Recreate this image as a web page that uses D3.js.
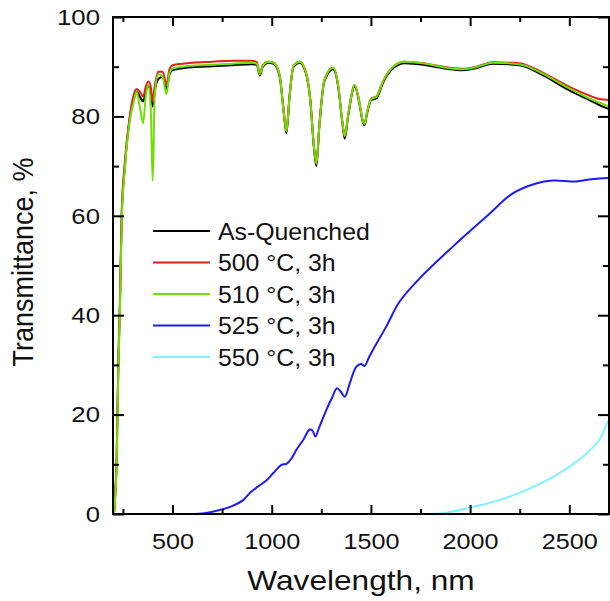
<!DOCTYPE html>
<html lang="en">
<head>
<meta charset="UTF-8">
<title>Transmittance vs wavelength</title>
<script src="https://d3js.org/d3.v7.min.js"></script>
<style>
  body { margin: 0; background: #fff; }
  svg text { font-family: "Liberation Sans", Arial, sans-serif; fill: #111; }
  .series { fill: none; stroke-width: 2px; stroke-linejoin: round; }
  .tick line { stroke: #000; stroke-width: 2px; }
</style>
</head>
<body>
<svg id="chart" width="610" height="601"></svg>
<script>
// wavelength grid shared by the three near-identical curves (nm)
var wl = [205, 210, 218, 227, 235, 244, 260, 286, 302, 319, 335, 352, 365, 378, 390, 400, 410, 428, 450, 470,
          485, 500, 550, 600, 700, 800, 900, 925, 940, 955, 982, 1010, 1040, 1060, 1074, 1090, 1110, 1141, 1170, 1195,
          1212, 1225, 1240, 1265, 1309, 1335, 1355, 1368, 1385, 1418, 1440, 1458, 1468, 1480, 1502, 1527, 1560, 1611, 1670, 1779,
          1880, 1963, 2030, 2114, 2248, 2366, 2483, 2601, 2650, 2700];

var asQuenched = [0, 3, 10, 30, 42, 60, 70, 80, 83, 85, 84, 83, 85, 86, 85, 82, 85, 87.5, 88, 85.5,
          88.5, 89.3, 89.7, 89.9, 90.1, 90.3, 90.5, 90.4, 88.2, 90, 90.8, 90.6, 88, 81, 76.6, 84, 90, 90.8, 89, 83,
          74, 70, 78, 87, 89.5, 86, 79, 75.5, 80, 86, 83, 79, 78.2, 80.5, 83.3, 83.6, 86.7, 89.7, 90.7, 90.3,
          89.6, 89.3, 89.7, 90.6, 90.3, 88.3, 85.6, 83.3, 82.3, 81.5];

var t500 = [0, 3.5, 11, 31, 43, 61, 71, 80.5, 84, 85.5, 85, 84, 86, 87, 86, 83, 86, 89, 89, 86.5,
          89.5, 90.3, 90.6, 90.8, 91, 91.2, 91.2, 90.9, 88.6, 90.3, 91, 90.8, 88.3, 81.3, 77, 84.3, 90.2, 91, 89.2, 83.2,
          74.3, 70.5, 78.3, 87.3, 89.8, 86.3, 79.3, 76, 80.3, 86.3, 83.3, 79.3, 78.6, 80.8, 83.6, 84, 87, 90, 91, 90.6,
          89.9, 89.6, 90, 90.9, 90.7, 88.8, 86.3, 84.2, 83.5, 83.3];

var t510 = [0, 2.5, 9.5, 29, 41, 59, 69.5, 79.5, 82.5, 85, 82, 78.6, 84, 86.3, 82, 67, 84, 88.5, 88, 84.5,
          88.8, 89.6, 90, 90.2, 90.4, 90.6, 90.8, 90.6, 88.5, 90.2, 91, 90.8, 88.2, 81, 77, 84, 90.2, 91, 89.2, 83,
          74.3, 70.5, 78, 87.2, 89.8, 86.2, 79.2, 76, 80.2, 86.3, 83.2, 79.2, 78.5, 80.7, 83.5, 83.9, 87, 90, 91, 90.6,
          89.8, 89.5, 89.9, 90.8, 90.5, 88.6, 86, 83.6, 82.8, 82];

var wl525 = [500, 650, 738, 800, 856, 889, 930, 974, 1010, 1049, 1074, 1100, 1124, 1160, 1191, 1205, 1220, 1240, 1275, 1305,
          1329, 1350, 1368, 1395, 1426, 1450, 1468, 1490, 1510, 1577, 1644, 1745, 1913, 2081, 2215, 2332, 2416, 2534, 2600, 2650, 2700];
var t525 = [0, 0.1, 0.8, 1.6, 2.8, 4.2, 5.5, 6.8, 8.3, 9.9, 10.1, 11.2, 12.9, 15, 17, 16.8, 15.6, 17.5, 20.9, 23.5,
          25.3, 24.5, 23.6, 26.5, 29.6, 30.2, 29.8, 31.5, 33, 37.7, 42.7, 47.4, 53.8, 59.8, 64.5, 66.5, 67.1, 66.9, 67.3, 67.5, 67.6];

var wl550 = [1778, 1846, 1946, 2000, 2097, 2265, 2433, 2567, 2651, 2693, 2700];
var t550 = [0, 0.1, 0.8, 1.3, 2.2, 4.5, 7.8, 11.5, 14.9, 18.5, 19];

var seriesNames = ["As-Quenched", "500 \u00B0C, 3h", "510 \u00B0C, 3h", "525 \u00B0C, 3h", "550 \u00B0C, 3h"];
var seriesColors = ["#000000", "#e0201c", "#6ee000", "#1c1cf0", "#80f2ff"];

var xMajor = [500, 1000, 1500, 2000, 2500];
var xMinor = [250, 750, 1250, 1750, 2250];
var yMajor = [0, 20, 40, 60, 80, 100];
var yMinor = [10, 30, 50, 70, 90];

var margin = {left: 113, top: 17, right: 1, bottom: 87};
var W = 610 - margin.left - margin.right,
    H = 601 - margin.top - margin.bottom;
var sx = 1.12; // the source figure is stretched sideways

var svg = d3.select('#chart');
var g = svg.append('g').attr('transform', 'translate(' + margin.left + ',' + margin.top + ')');

var x = d3.scaleLinear().domain([200, 2700]).range([0, W]);
var y = d3.scaleLinear().domain([0, 100]).range([H, 0]);

g.append('clipPath').attr('id', 'clip')
  .append('rect').attr('width', W).attr('height', H);

function lineWith(curve){
  return d3.line()
    .x(function(d){ return x(d[0]); })
    .y(function(d){ return y(d[1]); })
    .curve(curve);
}
var sharp = lineWith(d3.curveMonotoneX);
var smooth = lineWith(d3.curveCatmullRom.alpha(0.5));

var data = [
  d3.zip(wl, asQuenched),
  d3.zip(wl, t500),
  d3.zip(wl, t510),
  d3.zip(wl525, t525),
  d3.zip(wl550, t550)
];

g.append('g').attr('clip-path', 'url(#clip)')
  .selectAll('path')
  .data(data)
  .enter()
  .append('path')
    .attr('class', 'series')
    .attr('stroke', function(d, i){ return seriesColors[i]; })
    .attr('d', function(d, i){ return i < 3 ? sharp(d) : smooth(d); });

// axes: ticks point inwards on all four sides
function addAxis(axis, tr, labelled){
  var a = g.append('g').attr('transform', tr).call(axis);
  a.select('.domain').remove();
  if (!labelled) a.selectAll('text').remove();
  return a;
}

var fmt = d3.format('d');
var xb = addAxis(d3.axisBottom(x).tickValues(xMajor).tickFormat(fmt).tickSize(-9).tickPadding(19), 'translate(0,' + H + ')', true);
addAxis(d3.axisBottom(x).tickValues(xMinor).tickSize(-5), 'translate(0,' + H + ')', false);
addAxis(d3.axisTop(x).tickValues(xMajor).tickSize(-9), 'translate(0,0)', false);
addAxis(d3.axisTop(x).tickValues(xMinor).tickSize(-5), 'translate(0,0)', false);

var yl = addAxis(d3.axisLeft(y).tickValues(yMajor).tickFormat(fmt).tickSize(-11).tickPadding(13), 'translate(0,0)', true);
addAxis(d3.axisLeft(y).tickValues(yMinor).tickSize(-6), 'translate(0,0)', false);
addAxis(d3.axisRight(y).tickValues(yMajor).tickSize(-11), 'translate(' + W + ',0)', false);
addAxis(d3.axisRight(y).tickValues(yMinor).tickSize(-6), 'translate(' + W + ',0)', false);

xb.selectAll('text')
  .attr('font-size', 22.5)
  .attr('font-family', null)
  .attr('transform', 'scale(' + sx + ',1)');
yl.selectAll('text')
  .attr('font-size', 23)
  .attr('font-family', null)
  .attr('x', -13 / sx)
  .attr('transform', 'scale(' + sx + ',1)');

g.append('rect')
  .attr('width', W).attr('height', H)
  .attr('fill', 'none').attr('stroke', '#000').attr('stroke-width', 2);

// axis titles
svg.append('text')
  .attr('transform', 'translate(' + (margin.left + W / 2) + ',590) scale(1.13,1)')
  .attr('text-anchor', 'middle')
  .attr('font-size', 28)
  .text('Wavelength, nm');

svg.append('text')
  .attr('transform', 'translate(33,262) scale(' + sx + ',1) rotate(-90)')
  .attr('text-anchor', 'middle')
  .attr('font-size', 27)
  .text('Transmittance, %');

// legend
var legend = svg.append('g').attr('transform', 'translate(153,231)');
var rows = legend.selectAll('g')
  .data(seriesNames)
  .enter()
  .append('g')
    .attr('transform', function(d, i){ return 'translate(0,' + (i * 31.5) + ')'; });

rows.append('line')
  .attr('x1', 0).attr('x2', 57)
  .attr('stroke', function(d, i){ return seriesColors[i]; })
  .attr('stroke-width', 2);

rows.append('text')
  .attr('transform', 'translate(65,8.5) scale(1.08,1)')
  .attr('font-size', 23)
  .text(function(d){ return d; });
</script>
</body>
</html>
